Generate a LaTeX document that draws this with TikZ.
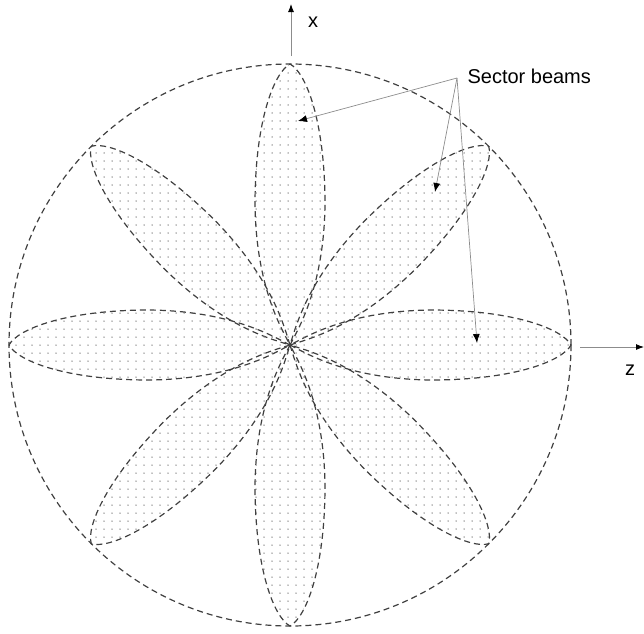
\documentclass[tikz,border=0pt]{standalone}
\usepackage{fontspec}
\setmainfont{Liberation Sans}
\usetikzlibrary{patterns.meta,arrows.meta}
\tikzset{
  outline/.style={draw=black!75, line width=1.2pt, dash pattern=on 6pt off 4pt},
  beam/.style={outline, pattern={Dots[distance=8pt, radius=0.75pt]}, pattern color=black!50},
  leader/.style={draw=black!45, line width=0.7pt, -{Latex[black, length=9pt, width=7pt]}},
  axis/.style={draw=black!45, line width=0.9pt, -{Latex[black, length=8pt, width=6pt]}},
}
\begin{document}
\begin{tikzpicture}[x=1pt, y=-1pt, font=\fontsize{20}{24}\selectfont, line join=round]
    \useasboundingbox (0,0) rectangle (644,633);
    \def\L{281} \def\w{35} % beam length and half width
    \coordinate (O) at (290,345);
    % ============= sector beams
    \foreach \a in {0,45,...,315}{
      \begin{scope}[shift={(O)}, rotate=\a]
        \coordinate (c1) at (0.05*\L, 0.2*\w);
        \coordinate (c2) at (0.2*\L, 0.97*\w);
        \coordinate (m1) at (0.5*\L, \w);
        \coordinate (c3) at (0.8*\L, \w);
        \coordinate (c4) at (0.97*\L, 0.45*\w);
        \coordinate (tip) at (\L, 0);
        \coordinate (c5) at (0.97*\L, -0.45*\w);
        \coordinate (c6) at (0.8*\L, -\w);
        \coordinate (m2) at (0.5*\L, -\w);
        \coordinate (c7) at (0.2*\L, -0.97*\w);
        \coordinate (c8) at (0.05*\L, -0.2*\w);
      \end{scope}
      \path[beam] (O) .. controls (c1) and (c2) .. (m1) .. controls (c3) and (c4) .. (tip)
        .. controls (c5) and (c6) .. (m2) .. controls (c7) and (c8) .. (O) -- cycle;
    }
    \draw[outline] (O) circle (281);
    % ============= axes
    \coordinate (xfoot) at (291,56); \coordinate (xhead) at (291,4);
    \coordinate (zfoot) at (580,347); \coordinate (zhead) at (644,347);
    \draw[axis] (xfoot) -- (xhead);
    \draw[axis] (zfoot) -- (zhead);
    \node (xlab) at (313,22) {x};
    \node (zlab) at (630,370) {z};
    % ============= label
    \coordinate (J) at (457,78);
    \node[anchor=west] (sector) at (464,76) {Sector beams};
    \path (298,121) coordinate (B1) (435,192) coordinate (B2) (477,343) coordinate (B3);
    \foreach \t in {B1,B2,B3}{\draw[leader] (J) -- (\t);}
\end{tikzpicture}
\end{document}
